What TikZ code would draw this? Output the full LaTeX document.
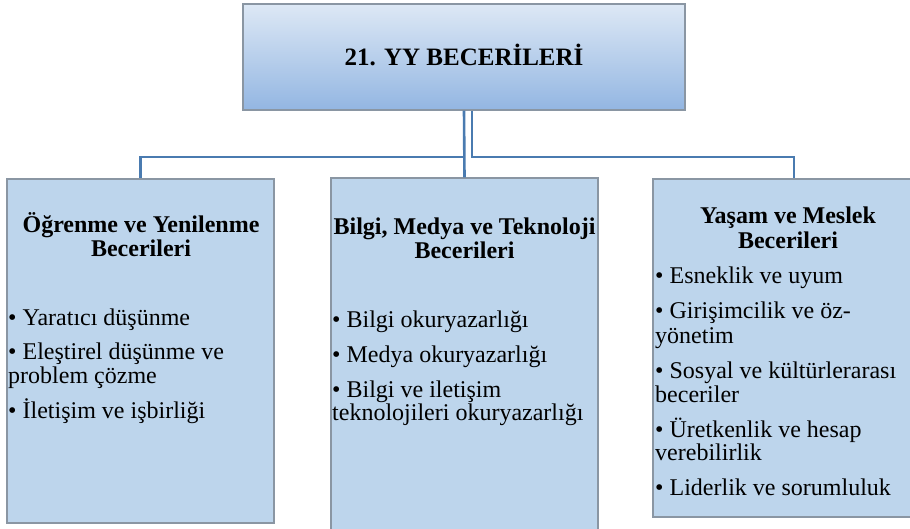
\documentclass[tikz,border=0pt]{standalone}
\usepackage{fontspec}
\setmainfont{LiberationSerif}[Extension=.ttf, UprightFont=*-Regular, BoldFont=*-Bold, ItalicFont=*-Italic, BoldItalicFont=*-BoldItalic]
\definecolor{boxfill}{HTML}{BDD5EC}
\definecolor{boxline}{HTML}{8A96A3}
\definecolor{conncol}{HTML}{4A7BB0}
\definecolor{gtop}{HTML}{DDE8F5}
\definecolor{gbot}{HTML}{93B6E2}
\tikzset{
  box/.style={draw=boxline, line width=1.1pt, fill=boxfill, inner sep=0},
  conn/.style={draw=conncol, line width=2.6pt},
  ln/.style={anchor=base west, inner sep=0, font=\fontsize{24}{25}\selectfont},
  hd/.style={anchor=base, inner sep=0, font=\fontsize{24}{25}\selectfont\bfseries},
}
\begin{document}
\begin{tikzpicture}[x=1pt,y=-1pt]
\useasboundingbox (0,0) rectangle (910,528);
% boxes
\node[draw=boxline, line width=1.1pt, top color=gtop, bottom color=gbot, minimum width=442pt, minimum height=106pt, inner sep=0] (top) at (464,57) {};
\node[box, minimum width=267pt, minimum height=344pt] (b1) at (140.5,351) {};
\node[box, minimum width=267pt, minimum height=352pt] (b2) at (464.5,354) {};
\node[box, minimum width=282pt, minimum height=338pt] (b3) at (794,348) {};
% title
\node[anchor=base, inner sep=0, font=\fontsize{25}{26}\selectfont\bfseries] (title) at (464,65.5) {21. YY BECERİLERİ};
% connectors
\coordinate (hb) at (464,157);
\draw[conn] (top.south) -- (top.south |- hb) -| (b1.north);
\draw[conn] ([xshift=8pt]top.south) -- ([xshift=8pt]top.south |- hb) -| (b3.north);
\draw[conn] (top.south) -- (b2.north);
% left box text
\node[hd] (h1a) at (141,232) {Öğrenme ve Yenilenme};
\node[hd] (h1b) at (141,256) {Becerileri};
\node[ln] (l1) at (8,325) {• Yaratıcı düşünme};
\node[ln] (l2) at (8,359) {• Eleştirel düşünme ve};
\node[ln] (l3) at (8,383) {problem çözme};
\node[ln] (l4) at (8,418) {• İletişim ve işbirliği};
% middle box text
\node[hd] (h2a) at (464.5,234) {Bilgi, Medya ve Teknoloji};
\node[hd] (h2b) at (464.5,258) {Becerileri};
\node[ln] (m1) at (332,327) {• Bilgi okuryazarlığı};
\node[ln] (m2) at (332,362) {• Medya okuryazarlığı};
\node[ln] (m3) at (332,397) {• Bilgi ve iletişim};
\node[ln] (m4) at (332,420) {teknolojileri okuryazarlığı};
% right box text
\node[hd] (h3a) at (788,223) {Yaşam ve Meslek};
\node[hd] (h3b) at (788,248) {Becerileri};
\node[ln] (r1) at (655,283) {• Esneklik ve uyum};
\node[ln] (r2) at (655,318) {• Girişimcilik ve öz-};
\node[ln] (r3) at (655,343) {yönetim};
\node[ln] (r4) at (655,378) {• Sosyal ve kültürlerarası};
\node[ln] (r5) at (655,402) {beceriler};
\node[ln] (r6) at (655,437) {• Üretkenlik ve hesap};
\node[ln] (r7) at (655,460) {verebilirlik};
\node[ln] (r8) at (655,495) {• Liderlik ve sorumluluk};
\end{tikzpicture}
\end{document}
